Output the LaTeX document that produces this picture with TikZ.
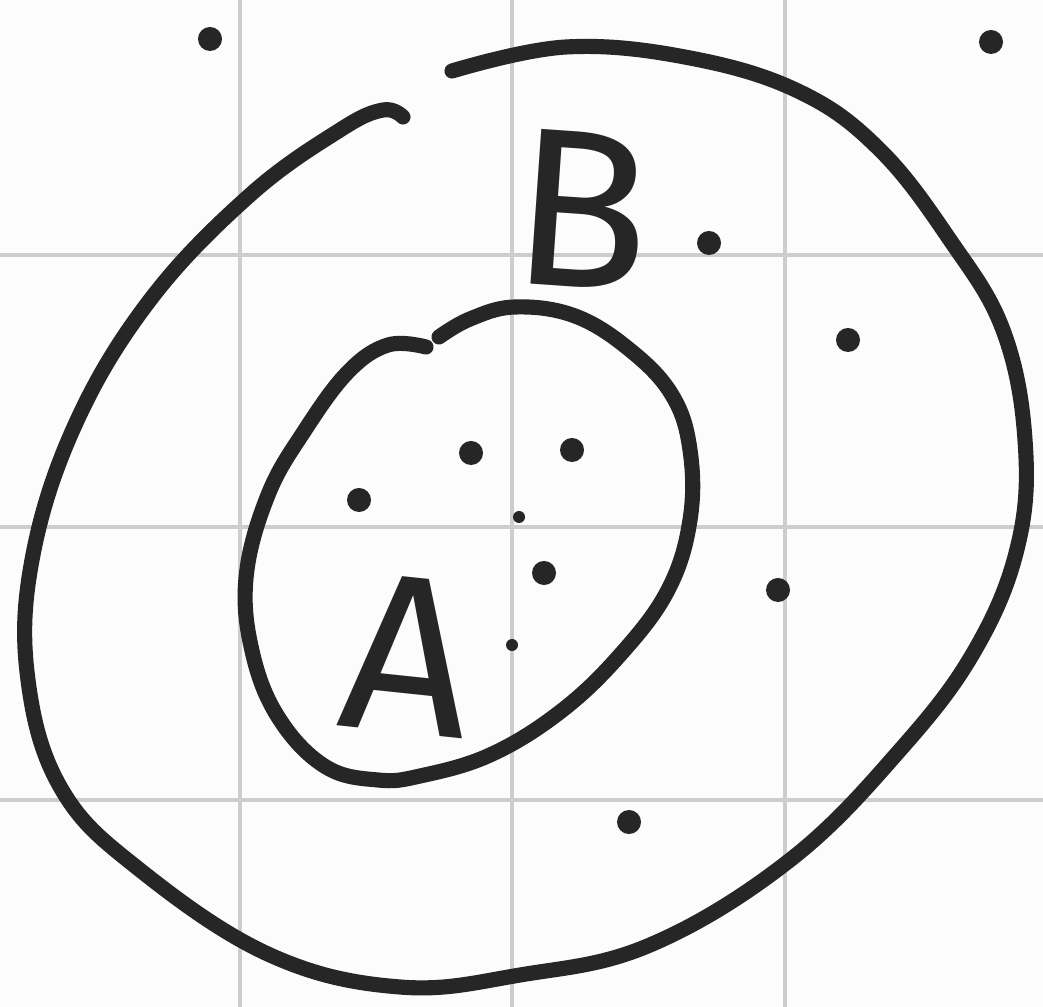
\documentclass[tikz,border=0pt]{standalone}
\usepackage{fontspec}
\setsansfont{Fira Sans}
\usepackage{tikz}
\definecolor{tinta}{RGB}{38,38,38}
\definecolor{papel}{RGB}{252,252,252}
\definecolor{rejilla}{RGB}{205,205,205}

\begin{document}
\begin{tikzpicture}[x=0.01cm, y=-0.01cm,
    trazo/.style={draw=tinta, line width=4.3pt, line cap=round, line join=round},
    linea/.style={draw=rejilla, line width=0.9pt},
    punto/.style={circle, fill=tinta, inner sep=0pt, minimum size=0.24cm},
    puntito/.style={circle, fill=tinta, inner sep=0pt, minimum size=0.12cm},
    letra/.style={text=tinta, font=\sffamily\fontsize{64}{64}\selectfont, inner sep=0pt}]
  \fill[papel] (0,0) rectangle (1043,1007);
  \useasboundingbox (0,0) rectangle (1043,1007);
  % rejilla
  \foreach \x in {240,512,785} \draw[linea] (\x,0) -- (\x,1007);
  \foreach \y in {255,527,800} \draw[linea] (0,\y) -- (1043,\y);
  % conjunto B
  \draw[trazo] plot[smooth, tension=0.65] coordinates {
    (452,71) (566,47) (690,58) (800,92) (880,150) (950,240) (1003,330)
    (1025,440) (1018,545) (975,650) (900,750) (790,860) (650,945)
    (520,975) (400,987) (270,955) (140,870) (62,790) (28,680) (32,560)
    (75,425) (150,300) (250,195) (340,130) (383,110) (403,117)};
  % conjunto A
  \draw[trazo] plot[smooth, tension=0.65] coordinates {
    (439,337) (470,319) (515,307) (575,316) (630,350) (672,395) (690,450)
    (690,520) (668,590) (620,655) (560,712) (490,755) (420,776) (378,780)
    (326,767) (280,720) (253,655) (246,578) (268,495) (305,430) (348,372)
    (388,345) (426,347)};
  % letras
  \node[letra, rotate=-4] (B) at (582,210) {B};
  \node[letra, rotate=-6] (A) at (408,655) {A};
  % puntos
  \foreach \x/\y [count=\i] in {210/39, 991/42, 709/243, 848/340, 471/453,
      572/450, 359/500, 544/573, 778/590, 629/822}
    \node[punto] (p\i) at (\x,\y) {};
  \node[puntito] (q1) at (519,517) {};
  \node[puntito] (q2) at (512,645) {};
\end{tikzpicture}
\end{document}
